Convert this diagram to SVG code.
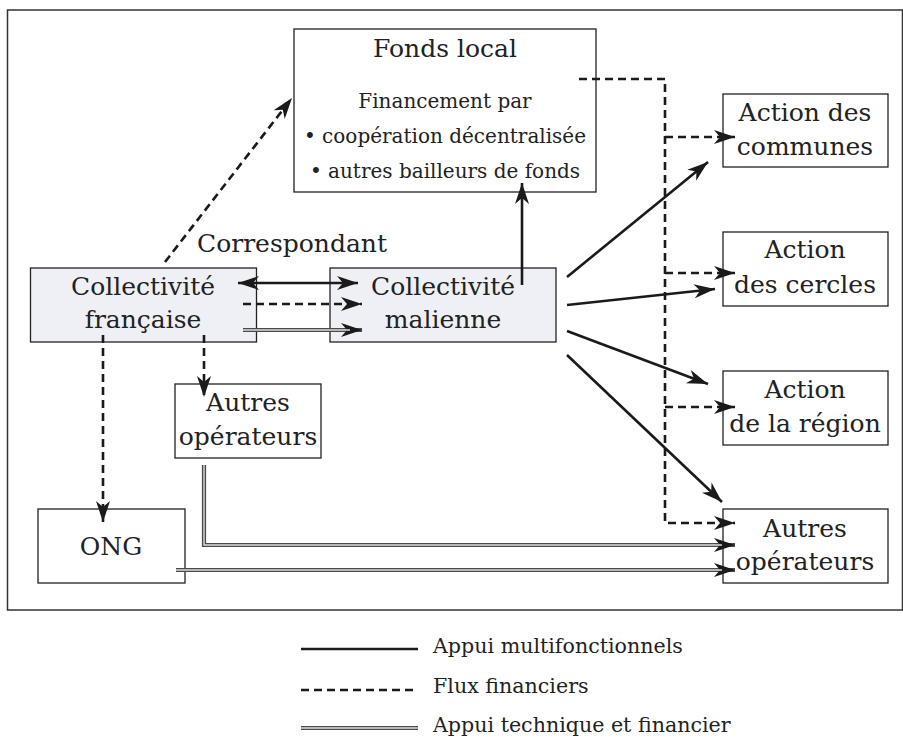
<svg xmlns="http://www.w3.org/2000/svg" width="903" height="738" viewBox="0 0 903 738">
<style>
text{font-family:"DejaVu Serif","Liberation Serif",serif;fill:#222}
.t{font-size:25px;text-anchor:middle}
.s{font-size:20px}
.l{font-size:20.6px}
.box{fill:#fff;stroke:#222;stroke-width:1.3}
.grey{fill:#eef0f5;stroke:#222;stroke-width:1.3}
.sol{fill:none;stroke:#1a1a1a;stroke-width:2.6}
.dash{fill:none;stroke:#1a1a1a;stroke-width:2.6;stroke-dasharray:8 5}
.dbo{fill:none;stroke:#4a4a4a;stroke-width:4.2}
.dbi{fill:none;stroke:#dcdcdc;stroke-width:1.4}
</style>
<defs>
<marker id="ah" viewBox="-23 -8 25 16" refX="0" refY="0" markerWidth="25" markerHeight="16" markerUnits="userSpaceOnUse" orient="auto-start-reverse" overflow="visible">
<path d="M0,0 L-21,-7 L-15,0 L-21,7 Z" fill="#1a1a1a"/>
</marker>
</defs>
<rect x="7.5" y="10" width="895" height="600" fill="none" stroke="#333" stroke-width="1.5"/>

<g id="fonds-local">
<rect class="box" x="294" y="29" width="302" height="163"/>
<text class="t" x="445" y="57">Fonds local</text>
<text class="s" x="445" y="108" text-anchor="middle">Financement par</text>
<text class="s" x="445" y="143" text-anchor="middle">• coopération décentralisée</text>
<text class="s" x="445" y="178" text-anchor="middle">• autres bailleurs de fonds</text>
</g>
<g id="collectivite-francaise">
<rect class="grey" x="30.5" y="268" width="226" height="74"/>
<text class="t" x="143" y="295">Collectivité</text>
<text class="t" x="143" y="328">française</text>
</g>
<g id="correspondant">
<text class="t" x="292" y="252">Correspondant</text>
</g>
<g id="collectivite-malienne">
<rect class="grey" x="330" y="268" width="226" height="74"/>
<text class="t" x="443" y="295">Collectivité</text>
<text class="t" x="443" y="328">malienne</text>
</g>
<g id="autres-operateurs-1">
<rect class="box" x="175" y="384" width="146" height="74"/>
<text class="t" x="248" y="411">Autres</text>
<text class="t" x="248" y="445">opérateurs</text>
</g>
<g id="ong">
<rect class="box" x="38" y="509" width="147" height="74"/>
<text class="t" x="111" y="555">ONG</text>
</g>
<g id="action-communes">
<rect class="box" x="723" y="94" width="165" height="73"/>
<text class="t" x="805" y="121">Action des</text>
<text class="t" x="805" y="155">communes</text>
</g>
<g id="action-cercles">
<rect class="box" x="723" y="232" width="165" height="74"/>
<text class="t" x="805" y="258">Action</text>
<text class="t" x="805" y="293">des cercles</text>
</g>
<g id="action-region">
<rect class="box" x="723" y="371" width="165" height="74"/>
<text class="t" x="805" y="398">Action</text>
<text class="t" x="805" y="432">de la région</text>
</g>
<g id="autres-operateurs-2">
<rect class="box" x="723" y="509" width="165" height="74"/>
<text class="t" x="805" y="537">Autres</text>
<text class="t" x="805" y="570">opérateurs</text>
</g>

<g id="connectors">
<path class="dash" d="M165,262 L292,98" marker-end="url(#ah)"/>
<path class="sol" d="M238,283 H358" marker-start="url(#ah)" marker-end="url(#ah)"/>
<path class="dash" d="M243,304 H362" marker-end="url(#ah)"/>
<path class="dbo" d="M243,330 H362" marker-end="url(#ah)"/>
<path class="dbi" d="M243,330 H350"/>
<path class="dash" d="M103,335 V522" marker-end="url(#ah)"/>
<path class="dash" d="M204,335 V397" marker-end="url(#ah)"/>
<path class="dbo" d="M204,465 V545 H735" marker-end="url(#ah)"/>
<path class="dbi" d="M204,465 V545 H722"/>
<path class="dbo" d="M176,570 H735" marker-end="url(#ah)"/>
<path class="dbi" d="M176,570 H722"/>
<path class="sol" d="M522,285 V183" marker-end="url(#ah)"/>
<path class="dash" d="M579,79 H665 V523 H735" marker-end="url(#ah)"/>
<path class="dash" d="M665,137 H735" marker-end="url(#ah)"/>
<path class="dash" d="M665,273 H735" marker-end="url(#ah)"/>
<path class="dash" d="M665,407 H735" marker-end="url(#ah)"/>
<path class="sol" d="M567,277 L708,162" marker-end="url(#ah)"/>
<path class="sol" d="M567,305 L715,289" marker-end="url(#ah)"/>
<path class="sol" d="M567,331 L708,384" marker-end="url(#ah)"/>
<path class="sol" d="M567,355 L722,502" marker-end="url(#ah)"/>
</g>

<g id="legend">
<path class="sol" d="M301,649 H418"/>
<text class="l" x="433" y="653">Appui multifonctionnels</text>
<path class="dash" d="M301,690 H418"/>
<text class="l" x="433" y="693">Flux financiers</text>
<path class="dbo" d="M301,728 H418"/>
<path class="dbi" d="M301,728 H418"/>
<text class="l" x="433" y="732">Appui technique et financier</text>
</g>
</svg>
